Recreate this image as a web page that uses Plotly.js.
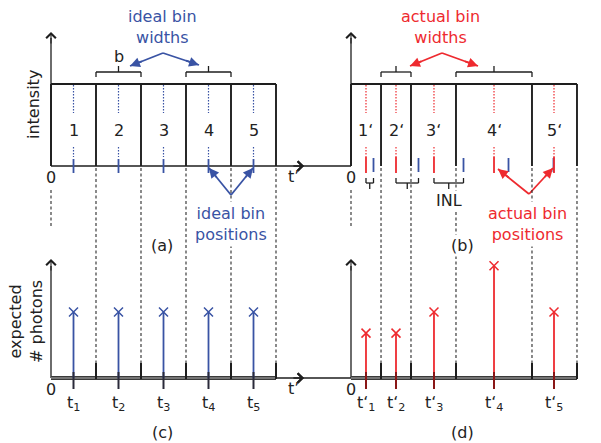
<!DOCTYPE html>
<html><head><meta charset="utf-8">
<script src="https://cdn.plot.ly/plotly-3.0.1.min.js"></script>
<style>html,body{margin:0;padding:0;background:#fff}</style>
</head><body><div id="chart" style="width:601px;height:443px"></div>
<script>
// ---------------- data (time in units of the ideal bin width b) ----------------
const idealEdges      = [0, 1, 2, 3, 4, 5];
const actualEdges     = [0, 0.667, 1.333, 2.333, 4.022, 5.022];
const idealPositions  = [0.5, 1.5, 2.5, 3.5, 4.5];
const actualPositions = [0.333, 1.0, 1.844, 3.178, 4.511];
const binIntensity    = 1;
const idealPhotons    = [1, 1, 1, 1, 1];
const actualPhotons   = [0.68, 0.68, 1.0, 1.7, 1.0];
const idealBinLabels  = ['1', '2', '3', '4', '5'];
const actualBinLabels = ['1‘', '2‘', '3‘', '4‘', '5‘'];
const idealTickLabels = ['t<sub>1</sub>', 't<sub>2</sub>', 't<sub>3</sub>', 't<sub>4</sub>', 't<sub>5</sub>'];
const actualTickLabels = ['t‘<sub>1</sub>', 't‘<sub>2</sub>', 't‘<sub>3</sub>', 't‘<sub>4</sub>', 't‘<sub>5</sub>'];
const bracedBins = [1, 3];     // bins marked with width braces
const inlBins = [0, 1, 2];     // bins marked with INL braces

// ---------------- layout helpers (pixel positions -> axis values) ----------------
const W = 601, H = 443;
const lX = px => (px - 51) / 45;
const rX = px => (px - 351) / 45;
const tY = py => (166 - py) / 82;
const bY = py => (378 - py) / 66;
const C = {blue: '#3953a4', red: '#ee2a2f', ink: '#1e1e1e', dash: '#2a2a2a'};
const FONT = 'DejaVu Sans, sans-serif';
const FS = 16;

function segs(list, xa, ya, color, width, dash) {
  const x = [], y = [];
  list.forEach(s => { x.push(s[0], s[2], null); y.push(s[1], s[3], null); });
  return {type: 'scatter', mode: 'lines', x, y, xaxis: xa, yaxis: ya,
          line: {color, width, dash: dash || 'solid'}, hoverinfo: 'skip',
          showlegend: false, cliponaxis: false};
}

const traces = [];
const annotations = [];

function topPanel(xa, ya, X, edges, positions, color) {
  const dots = [];
  positions.forEach(p => { dots.push([p, tY(85), p, tY(113)]); dots.push([p, tY(147), p, tY(157)]); });
  traces.push(segs(dots, xa, ya, color, 1.2, '1.5px,1.5px'));
  const box = edges.map(e => [e, 0, e, binIntensity]);
  box.push([edges[0], binIntensity, edges[edges.length - 1], binIntensity]);
  traces.push(segs(box, xa, ya, C.ink, 1.9));
  traces.push(segs([[0, 0, X(300), 0], [0, 0, 0, tY(38)]], xa, ya, C.ink, 1.3));
  const br = [];
  bracedBins.forEach(i => {
    const a = edges[i], b = edges[i + 1], m = (a + b) / 2;
    br.push([a, tY(77), a, tY(72)], [a, tY(72), b, tY(72)], [b, tY(72), b, tY(77)], [m, tY(72), m, tY(66)]);
  });
  traces.push(segs(br, xa, ya, C.ink, 1.3));
  annotations.push(arrowHead(xa, ya, 0, tY(32), 0, tY(45), C.ink, 4, 1.1, 1.7));
  annotations.push(arrowHead(xa, ya, X(304), 0, X(292), 0, C.ink, 4, 1.1, 1.7));
}

function bottomPanel(xa, ya, X, edges, positions, counts, color, stemTickColor) {
  const d = edges.slice(1).map(e => [e, bY(168), e, bY(363)]);
  d.push([0, bY(190), 0, bY(228)]);
  traces.push(segs(d, xa, ya, C.dash, 1.1, '3px,2.5px'));
  traces.push(segs([[0, 0, X(300), 0], [0, 0, 0, bY(266)]], xa, ya, C.ink, 1.3));
  traces.push(segs([[edges[0], 0, edges[edges.length - 1], 0]], xa, ya, '#3a3a3a', 4));
  traces.push(segs([[edges[0], 0, edges[edges.length - 1], 0]], xa, ya, '#8a8a8a', 1.4));
  traces.push(segs(edges.slice(1).map(e => [e, bY(363), e, bY(379)]), xa, ya, C.ink, 2));
  traces.push(segs(positions.map((p, i) => [p, 0, p, counts[i]]), xa, ya, color, 1.8));
  traces.push(segs(positions.map(p => [p, bY(372), p, bY(389)]), xa, ya, stemTickColor, 2));
  traces.push({type: 'scatter', mode: 'markers', x: positions, y: counts, xaxis: xa, yaxis: ya,
    marker: {symbol: 'x-thin', size: 9, line: {color, width: 1.5}}, hoverinfo: 'skip',
    showlegend: false, cliponaxis: false});
  annotations.push(arrowHead(xa, ya, 0, bY(259), 0, bY(272), C.ink, 4, 1.1, 1.7));
  annotations.push(arrowHead(xa, ya, X(304), 0, X(292), 0, C.ink, 4, 1.1, 1.7));
}

function arrowHead(xa, ya, hx, hy, tx, ty, color, head, width, size) {
  return {xref: xa, yref: ya, axref: xa, ayref: ya, x: hx, y: hy, ax: tx, ay: ty, text: '',
          showarrow: true, arrowhead: head, arrowwidth: width, arrowsize: size, arrowcolor: color, standoff: 0};
}

function callout(xa, ya, J, heads, color) {
  traces.push(segs(heads.map(h => [J[0], J[1], h[0], h[1]]), xa, ya, color, 1.8));
  heads.forEach(h => {
    const tx = h[0] - 0.4 * (h[0] - J[0]), ty = h[1] - 0.4 * (h[1] - J[1]);
    annotations.push(arrowHead(xa, ya, h[0], h[1], tx, ty, color, 2, 1.8, 1.1));
  });
}

function label(xa, ya, x, y, text, opt) {
  opt = opt || {};
  return Object.assign({xref: xa, yref: ya, x, y, text, showarrow: false,
    xanchor: 'center', yanchor: 'middle',
    font: {family: FONT, size: FS, color: opt.color || '#222'}}, opt.extra || {});
}
function P(px, py, text, color, extra) {
  return Object.assign({xref: 'paper', yref: 'paper', x: px / W, y: 1 - py / H, text, showarrow: false,
    xanchor: 'center', yanchor: 'middle', font: {family: FONT, size: FS, color: color || '#222'}}, extra || {});
}

// ---------------- panels ----------------
bottomPanel('x3', 'y3', lX, idealEdges, idealPositions, idealPhotons, C.blue, '#2a2a3a');
bottomPanel('x4', 'y4', rX, actualEdges, actualPositions, actualPhotons, C.red, '#8a1717');
topPanel('x', 'y', lX, idealEdges, idealPositions, C.blue);
topPanel('x2', 'y2', rX, actualEdges, actualPositions, C.red);

traces.push(segs(idealPositions.map(p => [p, tY(159), p, tY(173)]), 'x', 'y', C.blue, 1.8));
traces.push(segs(idealPositions.map(p => [p, tY(158), p, tY(172)]), 'x2', 'y2', C.blue, 1.8));
traces.push(segs(actualPositions.map(p => [p, tY(157), p, tY(173)]), 'x2', 'y2', C.red, 1.8));
const inl = [];
inlBins.forEach(i => {
  const a = actualPositions[i], b = idealPositions[i], m = (a + b) / 2;
  inl.push([a, tY(178), a, tY(183)], [a, tY(183), b, tY(183)], [b, tY(183), b, tY(178)], [m, tY(183), m, tY(189)]);
});
traces.push(segs(inl, 'x2', 'y2', C.ink, 1.3));

callout('x', 'y', [lX(163), tY(53)], [[lX(130), tY(66)], [lX(199), tY(65)]], C.blue);
callout('x2', 'y2', [rX(442), tY(53)], [[rX(410), tY(66)], [rX(478), tY(66)]], C.red);
callout('x', 'y', [lX(231), tY(195)], [[lX(209), tY(168)], [lX(253), tY(168)]], C.blue);
callout('x2', 'y2', [rX(529), tY(194)], [[rX(498), tY(169)], [rX(553), tY(168)]], C.red);

// ---------------- text ----------------
idealPositions.forEach((p, i) => annotations.push(label('x', 'y', p, tY(130), idealBinLabels[i])));
actualPositions.forEach((p, i) => annotations.push(label('x2', 'y2', p, tY(130), actualBinLabels[i])));
idealPositions.forEach((p, i) => annotations.push(label('x3', 'y3', p, bY(403), idealTickLabels[i])));
actualPositions.forEach((p, i) => annotations.push(label('x4', 'y4', p, bY(403), actualTickLabels[i])));
[['x', 'y', tY(177)], ['x2', 'y2', tY(177)], ['x3', 'y3', bY(389)], ['x4', 'y4', bY(389)]].forEach(a =>
  annotations.push(label(a[0], a[1], 0, a[2], '0')));
[['x', 'y', lX, tY(176)], ['x2', 'y2', rX, tY(176)], ['x3', 'y3', lX, bY(388)], ['x4', 'y4', rX, bY(388)]].forEach(a =>
  annotations.push(label(a[0], a[1], a[2](286), a[3], 't’', {extra: {xanchor: 'left'}})));
annotations.push(label('x', 'y', idealPositions[1], tY(56), 'b'));
annotations.push(label('x2', 'y2', (actualPositions[2] + idealPositions[2]) / 2, tY(200), 'INL',
  {extra: {bgcolor: '#fff', borderpad: 0}}));

annotations.push(P(162, 27, 'ideal bin<br>widths', C.blue));
annotations.push(P(440, 27, 'actual bin<br>widths', C.red));
annotations.push(P(231, 224, 'ideal bin<br>positions', C.blue, {bgcolor: '#fff', borderpad: 2}));
annotations.push(P(527, 224, 'actual bin<br>positions', C.red, {bgcolor: '#fff', borderpad: 2}));
annotations.push(P(162, 245, '(a)'));
annotations.push(P(462, 245, '(b)', null, {bgcolor: '#fff', borderpad: 1}));
annotations.push(P(162, 432, '(c)'));
annotations.push(P(462, 432, '(d)'));
annotations.push(P(33, 105, 'intensity', null, {textangle: -90}));
annotations.push(P(26, 322, 'expected<br># photons', null, {textangle: -90}));

// ---------------- axes ----------------
const axis = (domain, range, anchor) => ({domain, range, anchor, visible: false, fixedrange: true,
  showgrid: false, zeroline: false});
const layout = {
  width: W, height: H, margin: {l: 0, r: 0, t: 0, b: 0},
  paper_bgcolor: '#fff', plot_bgcolor: 'rgba(0,0,0,0)', showlegend: false,
  xaxis:  axis([0, 300 / W], [lX(0), lX(300)], 'y'),
  yaxis:  axis([0, 1], [tY(H), tY(0)], 'x'),
  xaxis2: axis([300 / W, 1], [rX(300), rX(W)], 'y2'),
  yaxis2: axis([0, 1], [tY(H), tY(0)], 'x2'),
  xaxis3: axis([0, 300 / W], [lX(0), lX(300)], 'y3'),
  yaxis3: axis([0, 1], [bY(H), bY(0)], 'x3'),
  xaxis4: axis([300 / W, 1], [rX(300), rX(W)], 'y4'),
  yaxis4: axis([0, 1], [bY(H), bY(0)], 'x4'),
  annotations
};
Plotly.newPlot('chart', traces, layout, {staticPlot: true, displayModeBar: false});
</script></body></html>
